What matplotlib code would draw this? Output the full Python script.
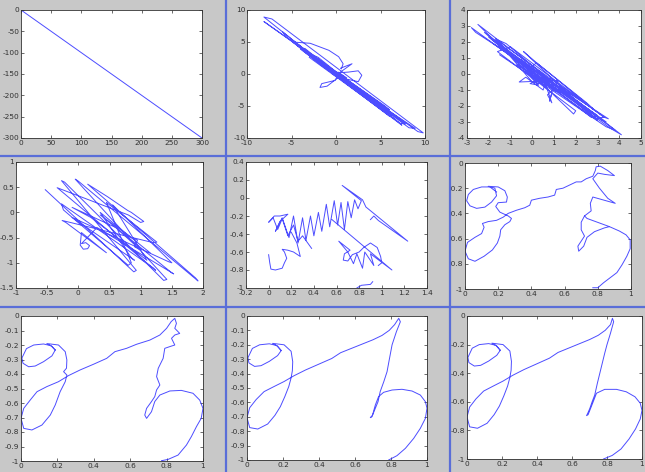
import matplotlib
matplotlib.use("Agg")
import matplotlib.pyplot as plt
from matplotlib.lines import Line2D
from matplotlib.ticker import FuncFormatter
import numpy as np

nan = np.nan

# panel 1: straight diagonal
p1x = [0, 300]
p1y = [0, -300]

# panel 2: noisy diagonal scribble
p2x = [0.2, -8.1, -7.2, 9.8, 9.2, -8.1, -7.5, 5.5, 6.0, -4.6, -4.9, -2.9, -0.8, 0.3, 0.8,
       0.6, 0.5, 1.8, 1.0, 0.4, 1.4, 2.5, 2.9, 2.5, 1.2, 0.2, -0.1, -0.7, -1.6, -1.8,
       -1.0, 0.3, 8.9, 8.2, -4.3, -3.6, 7.4, 6.5, -3.9, -2.5, 5.8, 5.0, -2.0, 0.8, 0.0,
       -0.5, 4.5, 3.8, -3.0, -1.5, 3.0, -5.0, 5.9, 5.6, -4.8, -4.5, 6.3, 6.0, -4.0, -3.5,
       4.8, 5.2, -2.8, -2.0, 3.0, 3.3, -1.0, 0.0, 0.8, 0.2, 1.2, -0.3, 0.5, -6.0, -5.6,
       7.8, 7.2, -3.0]
p2y = [-0.3, 8.9, 8.6, -9.2, -9.0, 8.2, 7.6, -5.0, -5.6, 4.9, 5.0, 4.8, 3.7, 2.7, 1.6,
       0.8, 0.9, 1.6, 0.8, 0.2, 0.3, 0.5, -0.2, -1.2, -0.8, -0.2, -1.0, -1.2, -1.5, -2.1,
       -1.9, -0.5, -8.5, -8.4, 4.4, 3.5, -8.0, -6.9, 4.1, 2.7, -6.2, -5.0, 2.3, -0.6, 0.3,
       0.1, -4.2, -4.0, 3.0, 1.2, -3.1, 5.4, -6.1, -5.8, 4.9, 4.8, -6.4, -6.6, 3.9, 4.0,
       -5.2, -5.0, 3.1, 2.6, -3.0, -3.5, 1.0, 0.0, -0.3, 0.3, -0.6, 0.2, -0.8, 6.6, 5.8,
       -7.8, -7.7, 2.6]

# panel 3
p3x = [0.0, -2.5, 4.1, 3.6, -2.8, -2.6, 3.5, 3.3, -1.6, -1.4, 1.9, 2.0, -1.6, -1.0, 3.3,
       2.9, -0.4, 0.2, 2.9, 2.5, 0.2, -0.2, 1.0, 1.2, -0.6, -0.3, 0.5, 0.6, 0.9, 0.7,
       1.0, 0.8, 0.3, 0.0, -1.7, -1.2, 3.0, 2.6, -0.7, 1.1, 0.1, 0.8, -2.0, 3.4, 3.2,
       -1.8, -1.2, 3.0, 2.7, -0.8, -0.5, 2.4, 1.8, -0.3, 0.0, 0.3, -0.1, 0.5, 0.9, 0.7,
       1.0, 0.8, 0.9, -2.2, 3.8, 3.4, -1.5]
p3y = [-0.2, 3.1, -3.8, -3.4, 2.9, 2.6, -2.8, -2.7, 2.1, 1.8, -2.5, -2.3, 1.4, 1.7, -2.7,
       -2.8, 1.4, 0.7, -2.3, -1.8, 0.7, 0.3, -1.0, -0.4, -0.5, -0.2, -1.0, -0.6, -1.8, -1.3,
       -0.9, -0.3, -0.6, -0.5, 2.2, 1.9, -2.9, -2.5, 0.6, -1.1, 0.0, -0.8, 2.3, -3.0, -2.9,
       1.9, 1.4, -2.6, -2.7, 1.0, 0.9, -2.1, -1.5, 0.2, -0.3, -0.7, -0.6, -0.2, -0.9, -0.4,
       -0.6, -1.7, -1.2, 2.6, -3.5, -3.3, 1.2]

# panel 4
p4x = [-0.53, 0.89, 0.93, -0.27, -0.22, 1.37, 1.42, -0.05, 0.0, 1.92, 1.88, 0.15, 0.47,
       0.79, 0.85, 1.05, 1.0, 0.8, -0.34, -0.3, 1.24, 1.2, -0.27, -0.24, 0.8, 0.85, 0.45,
       1.26, 1.2, -0.26, -0.2, 0.45, 0.05, 0.03, 0.08, 0.15, 0.18, 0.12, 0.05, 0.3, 1.53,
       1.5, 0.35, 0.85, 0.95, 0.9, 1.0, 0.6, -0.1, 0.2, 1.1, 0.55, 1.5, 1.45, -0.1, 0.9,
       0.85, 0.35, 1.15]
p4y = [0.45, -1.18, -1.15, 0.63, 0.6, -1.35, -1.33, 0.66, 0.62, -1.36, -1.3, 0.56, 0.31,
       0.04, 0.0, -0.18, -0.2, -0.05, 0.49, 0.45, -1.15, -1.1, 0.17, 0.05, -1.05, -1.0, 0.2,
       -0.59, -0.6, -0.16, -0.2, -0.8, -0.4, -0.65, -0.73, -0.72, -0.66, -0.6, -0.62, -0.3,
       -1.22, -1.2, -0.05, -0.5, -0.55, -0.68, -0.75, -0.3, 0.1, -0.1, -0.95, 0.15, -1.0,
       -0.98, -0.1, -0.95, -0.9, 0.0, -0.8]

# panel 5 (segments split by nan)
p5x = [0.0, 0.01, 0.02, 0.06, 0.12, 0.14, 0.16, 0.14, 0.12, 0.17, 0.22, 0.28, 0.25, 0.2, nan,
       0.38, 0.30, 0.26, 0.22, 0.17, 0.12, 0.08, 0.04, 0.0, 0.05, 0.1, 0.17, 0.1, 0.06, 0.12,
       0.18, 0.22, 0.26, 0.3, 0.33, 0.37, 0.40, 0.44, 0.47, 0.51, 0.54, 0.58, 0.61, 0.64,
       0.67, 0.70, 0.73, 0.76, 0.79, 0.82, 0.65, 0.83, 0.86, 1.23, 0.97, 0.93, 0.9, nan,
       0.56, 1.09, 0.9, 0.93, 0.85, 0.83, 0.78, 0.75, 0.7, 0.62, 0.72, 0.67, 0.66, 0.7, 0.74,
       0.8, 0.84, 0.9, 0.96, 0.99, 1.0, 0.97, nan,
       0.78, 0.82, 0.9, 0.92]
p5y = [-0.63, -0.72, -0.79, -0.80, -0.78, -0.72, -0.67, -0.6, -0.57, -0.58, -0.6, -0.65, -0.5, -0.38, nan,
       -0.56, -0.42, -0.48, -0.3, -0.42, -0.23, -0.35, -0.22, -0.27, -0.2, -0.2, -0.18, -0.26, -0.37, -0.22,
       -0.44, -0.2, -0.5, -0.22, -0.47, -0.2, -0.42, -0.16, -0.37, -0.07, -0.32, -0.03, -0.3, -0.05,
       -0.35, -0.04, -0.22, -0.02, -0.12, -0.03, 0.14, -0.02, -0.1, -0.48, -0.25, -0.2, -0.24, nan,
       -0.24, -0.8, -0.62, -0.75, -0.6, -0.78, -0.62, -0.73, -0.6, -0.48, -0.58, -0.62, -0.69, -0.7, -0.63,
       -0.6, -0.55, -0.5, -0.55, -0.65, -0.72, -0.75, nan,
       -1.0, -0.97, -0.96, -0.93]

# panel 6: rough handwriting
p6x = [0.19, 0.15, 0.1, 0.05, 0.02, 0.01, 0.03, 0.07, 0.12, 0.16, 0.19, 0.18, 0.14, 0.2, 0.24,
       0.255, 0.25, 0.2, 0.185, 0.21, 0.26, 0.28, 0.27, 0.24, 0.215, 0.21, 0.195, 0.165, 0.115,
       0.06, 0.02, 0.0, 0.015, 0.06, 0.1, 0.115, 0.105, 0.14, 0.19, 0.23, 0.26, 0.31, 0.36,
       0.39, 0.4, 0.45, 0.5, 0.54, 0.55, 0.59, 0.63, 0.67, 0.7, 0.73, 0.77, 0.785, 0.79, 0.815,
       0.86, 0.9, 0.84, 0.8, 0.77, 0.81, 0.86, 0.905, 0.77, 0.755, 0.76, 0.72, 0.735, 0.87,
       0.93, 0.97, 0.995, 0.995, 0.975, 0.945, 0.915, 0.885, 0.835, 0.8, 0.77, nan,
       0.72, 0.70, 0.70, 0.72, 0.68, 0.685, 0.715, 0.735, 0.78, 0.84, 0.87]
p6y = [-0.23, -0.19, -0.19, -0.21, -0.25, -0.3, -0.34, -0.36, -0.35, -0.31, -0.26, -0.2, -0.185,
       -0.19, -0.22, -0.27, -0.31, -0.315, -0.345, -0.39, -0.42, -0.44, -0.465, -0.49, -0.53,
       -0.58, -0.635, -0.69, -0.74, -0.78, -0.76, -0.7, -0.63, -0.59, -0.56, -0.51, -0.48,
       -0.465, -0.455, -0.43, -0.4, -0.375, -0.355, -0.335, -0.295, -0.28, -0.27, -0.255,
       -0.21, -0.2, -0.175, -0.15, -0.15, -0.125, -0.105, -0.06, -0.03, -0.025, -0.06, -0.1,
       -0.09, -0.08, -0.125, -0.2, -0.28, -0.32, -0.27, -0.32, -0.38, -0.42, -0.44, -0.505,
       -0.54, -0.57, -0.61, -0.68, -0.74, -0.81, -0.87, -0.9, -0.95, -0.99, -0.99, nan,
       -0.42, -0.47, -0.53, -0.58, -0.66, -0.70, -0.66, -0.59, -0.545, -0.515, -0.505]

# panel 7: smoothed handwriting
p7x = [0.188, 0.17, 0.124, 0.078, 0.042, 0.011, 0.005, 0.03, 0.07, 0.124, 0.165, 0.188, 0.17,
       0.142, 0.206, 0.243, 0.252, 0.25, 0.234, 0.252, 0.243, 0.215, 0.188, 0.161, 0.115, 0.06,
       0.015, 0.0, 0.015, 0.051, 0.088, 0.142, 0.206, 0.261, 0.325, 0.398, 0.471, 0.516, 0.58,
       0.635, 0.708, 0.763, 0.8, 0.825, 0.845, 0.854, 0.845, 0.872, 0.845, 0.827, 0.845, 0.818,
       0.79, 0.781, 0.754, 0.745, 0.763, 0.745, 0.735, 0.717, 0.69, 0.68, 0.69, 0.717, 0.735,
       0.763, 0.818, 0.881, 0.945, 0.982, 1.0, 0.99, 0.964, 0.936, 0.909, 0.863, 0.808, 0.772]
p7y = [-0.235, -0.275, -0.315, -0.345, -0.35, -0.326, -0.29, -0.225, -0.2, -0.193, -0.205,
       -0.235, -0.21, -0.19, -0.2, -0.246, -0.303, -0.36, -0.384, -0.407, -0.453, -0.522,
       -0.614, -0.683, -0.752, -0.786, -0.775, -0.706, -0.637, -0.579, -0.522, -0.487, -0.453,
       -0.411, -0.372, -0.333, -0.292, -0.246, -0.223, -0.195, -0.166, -0.131, -0.085, -0.039,
       -0.016, -0.051, -0.085, -0.12, -0.131, -0.154, -0.2, -0.211, -0.223, -0.292, -0.361,
       -0.418, -0.476, -0.51, -0.556, -0.59, -0.637, -0.683, -0.706, -0.66, -0.59, -0.545,
       -0.517, -0.513, -0.533, -0.58, -0.637, -0.706, -0.763, -0.832, -0.89, -0.959, -0.989,
       -0.998]

# panels 8 and 9: shared left part, different right strokes
left_x = [0.19, 0.17, 0.124, 0.078, 0.042, 0.011, 0.005, 0.03, 0.07, 0.124, 0.165, 0.19, 0.17,
          0.142, 0.206, 0.245, 0.254, 0.252, 0.245, 0.232, 0.21, 0.185, 0.155, 0.115, 0.06,
          0.015, 0.0, 0.015, 0.051, 0.095, 0.15, 0.206, 0.261, 0.325, 0.398, 0.471, 0.52, 0.58,
          0.64, 0.7, 0.75, 0.79, 0.82]
left_y = [-0.24, -0.275, -0.315, -0.345, -0.35, -0.326, -0.29, -0.225, -0.2, -0.193, -0.205,
          -0.24, -0.21, -0.19, -0.2, -0.245, -0.317, -0.38, -0.43, -0.49, -0.56, -0.63, -0.69,
          -0.75, -0.785, -0.775, -0.706, -0.637, -0.58, -0.525, -0.49, -0.455, -0.415, -0.375,
          -0.335, -0.295, -0.255, -0.225, -0.195, -0.165, -0.135, -0.1, -0.06]
r8x = [0.843, 0.852, 0.83, 0.806, 0.79, 0.778, 0.76, 0.74, 0.728, 0.709, 0.694, 0.685, 0.697,
       0.713, 0.731, 0.759, 0.806, 0.861, 0.917, 0.963, 0.991, 1.0, 0.991, 0.963, 0.926, 0.88,
       0.833, 0.787]
r8y = [-0.016, -0.04, -0.109, -0.2, -0.306, -0.387, -0.456, -0.525, -0.595, -0.653, -0.699,
       -0.706, -0.69, -0.618, -0.56, -0.53, -0.514, -0.509, -0.521, -0.549, -0.595, -0.64,
       -0.711, -0.78, -0.85, -0.919, -0.97, -1.0]
r9x = [0.831, 0.838, 0.82, 0.8, 0.787, 0.773, 0.759, 0.745, 0.73, 0.715, 0.702, 0.69, 0.683,
       0.692, 0.705, 0.721, 0.74, 0.787, 0.854, 0.91, 0.96, 0.99, 1.0, 0.99, 0.963, 0.926,
       0.88, 0.83, 0.78]
r9y = [-0.016, -0.04, -0.12, -0.2, -0.26, -0.33, -0.4, -0.47, -0.552, -0.6, -0.646, -0.68,
       -0.697, -0.69, -0.65, -0.6, -0.54, -0.513, -0.513, -0.53, -0.565, -0.61, -0.66, -0.72,
       -0.79, -0.86, -0.93, -0.975, -1.0]

W, H = 645, 472
BG = "#c8c8c8"
SEP = "#5a6ed8"
LINE = dict(color="#2020ff", lw=0.7, alpha=0.8)

fig = plt.figure(figsize=(W / 100, H / 100), dpi=100, facecolor=BG)
fmt = FuncFormatter(lambda v, p: "%g" % (round(v, 6) + 0.0))


def panel(box, xlim, ylim, xt, yt):
    x0, x1, y0, y1 = box
    ax = fig.add_axes([x0 / W, 1 - y1 / H, (x1 - x0) / W, (y1 - y0) / H])
    ax.set_xlim(xlim)
    ax.set_ylim(ylim)
    ax.set_xticks(xt)
    ax.set_yticks(yt)
    ax.xaxis.set_major_formatter(fmt)
    ax.yaxis.set_major_formatter(fmt)
    ax.tick_params(direction="in", top=True, right=True, length=2.5, width=0.5,
                   labelsize=5.3, pad=1.2, colors="#303030")
    for s in ax.spines.values():
        s.set_linewidth(0.6)
        s.set_color("#303030")
    return ax


ax = panel((21, 202, 10, 138), (0, 300), (-300, 0), np.arange(0, 301, 50), np.arange(-300, 1, 50))
ax.plot(p1x, p1y, **LINE)

ax = panel((247, 425, 10, 138), (-10, 10), (-10, 10), [-10, -5, 0, 5, 10], [-10, -5, 0, 5, 10])
ax.plot(p2x, p2y, **LINE)

ax = panel((467, 641, 10, 138), (-3, 5), (-4, 4), np.arange(-3, 6), np.arange(-4, 5))
ax.plot(p3x, p3y, **LINE)

ax = panel((16, 203, 162, 288), (-1, 2), (-1.5, 1), np.arange(-1, 2.01, 0.5), np.arange(-1.5, 1.01, 0.5))
ax.plot(p4x, p4y, **LINE)

ax = panel((246, 427, 162, 288), (-0.2, 1.4), (-1, 0.4), np.arange(-0.2, 1.41, 0.2), np.arange(-1, 0.41, 0.2))
ax.plot(p5x, p5y, **LINE)

ax = panel((465, 631, 163, 289), (0, 1), (-1, 0), np.arange(0, 1.01, 0.2), np.arange(-1, 0.01, 0.2))
ax.plot(p6x, p6y, **LINE)

ax = panel((21, 203, 316, 461), (0, 1), (-1, 0), np.arange(0, 1.01, 0.2), np.arange(-1, 0.01, 0.1))
ax.plot(p7x, p7y, **LINE)

ax = panel((247, 427, 316, 460), (0, 1), (-1, 0), np.arange(0, 1.01, 0.2), np.arange(-1, 0.01, 0.1))
ax.plot(left_x + r8x, left_y + r8y, **LINE)

ax = panel((467, 642, 316, 459), (0, 1), (-1, 0), np.arange(0, 1.01, 0.2), np.arange(-1, 0.01, 0.2))
ax.plot(left_x + r9x, left_y + r9y, **LINE)

# blue separators between the panels
for xp in (226, 450):
    fig.add_artist(Line2D([xp / W, xp / W], [0, 1], color=SEP, lw=1.6))
for yp in (155.5, 307):
    fig.add_artist(Line2D([0, 1], [1 - yp / H, 1 - yp / H], color=SEP, lw=1.6))

fig.savefig("out.png", dpi=100, facecolor=BG)
